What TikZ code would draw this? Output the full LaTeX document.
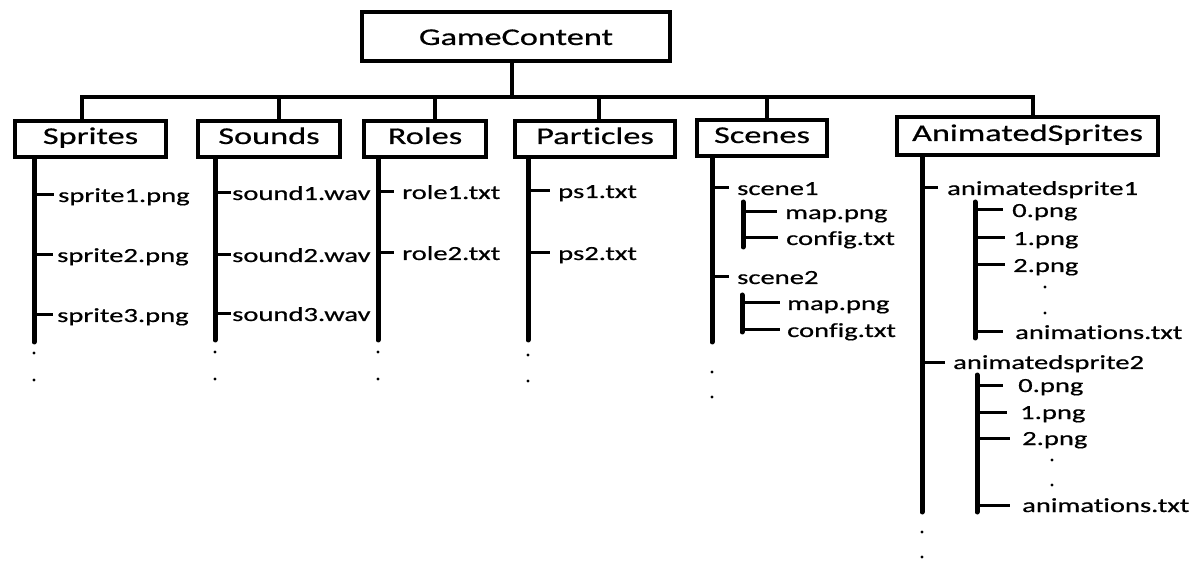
\documentclass[tikz,border=0pt]{standalone}
\usepackage{fontspec}
\newfontfamily\calfont{Carlito}[FakeStretch=1.43, FakeBold=0.6, RawFeature=-liga]
\begin{document}
\begin{tikzpicture}[x=1pt,y=-1pt,
  hdr/.style={draw, line width=4pt, inner sep=0pt, text height=16pt, text depth=6pt,
    font=\calfont\fontsize{24}{28}\selectfont},
  item/.style={anchor=west, inner sep=0pt, text height=15pt, text depth=1pt,
    font=\calfont\fontsize{20}{24}\selectfont},
  conn/.style={line width=4pt},
  trunk/.style={line width=5pt, line cap=round},
  stub/.style={line width=3pt},
  dot/.style={fill=black}]
\useasboundingbox (0,0) rectangle (1197,561);

% header boxes
\node[hdr, minimum width=308pt, minimum height=49pt, text height=17pt, text depth=0pt] (gc) at (516,36.5) {GameContent};
\node[hdr, minimum width=151pt, minimum height=36pt] (spr) at (90.5,139) {Sprites};
\node[hdr, minimum width=142pt, minimum height=36pt] (snd) at (269,139) {Sounds};
\node[hdr, minimum width=122pt, minimum height=36pt] (rol) at (425,139) {Roles};
\node[hdr, minimum width=160pt, minimum height=36pt] (par) at (595,139) {Particles};
\node[hdr, minimum width=130pt, minimum height=36pt] (scn) at (762,138) {Scenes};
\node[hdr, minimum width=261pt, minimum height=38pt] (ani) at (1027.5,136) {AnimatedSprites};

% top bar
\coordinate (xGC) at (512,97);
\coordinate (xSpr) at (82,97);
\coordinate (xSnd) at (279,97);
\coordinate (xRol) at (435,97);
\coordinate (xPar) at (599,97);
\coordinate (xScn) at (767,97);
\coordinate (xAni) at (1033,97);
\draw[conn] ([xshift=-2pt]xSpr) -- ([xshift=2pt]xAni);
\draw[conn] (gc.south -| xGC) -- (xGC);
\draw[conn] (spr.north -| xSpr) -- (xSpr);
\draw[conn] (snd.north -| xSnd) -- (xSnd);
\draw[conn] (rol.north -| xRol) -- (xRol);
\draw[conn] (par.north -| xPar) -- (xPar);
\draw[conn] (scn.north -| xScn) -- (xScn);
\draw[conn] (ani.north -| xAni) -- (xAni);

% Sprites
\coordinate (tSpr) at (34,342);
\draw[trunk] (spr.south -| tSpr) -- (tSpr);
\node[item] (sp1) at (58,195) {sprite1.png};
\node[item] (sp2) at (57,255) {sprite2.png};
\node[item] (sp3) at (57,315) {sprite3.png};
\foreach \n in {sp1,sp2,sp3} \draw[stub] (tSpr |- \n.west) -- ([xshift=-4pt]\n.west);
\fill[dot] (34,353) circle (1.6);
\fill[dot] (34,380) circle (1.6);

% Sounds
\coordinate (tSnd) at (215,340);
\draw[trunk] (snd.south -| tSnd) -- (tSnd);
\node[item] (so1) at (232,193) {sound1.wav};
\node[item] (so2) at (232,255) {sound2.wav};
\node[item] (so3) at (232,314) {sound3.wav};
\foreach \n in {so1,so2,so3} \draw[stub] (tSnd |- \n.west) -- ([xshift=-1pt]\n.west);
\fill[dot] (215,352) circle (1.6);
\fill[dot] (215,379) circle (1.6);

% Roles
\coordinate (tRol) at (378,340);
\draw[trunk] (rol.south -| tRol) -- (tRol);
\node[item] (ro1) at (402,192) {role1.txt};
\node[item] (ro2) at (402,253) {role2.txt};
\foreach \n in {ro1,ro2} \draw[stub] (tRol |- \n.west) -- ([xshift=-8pt]\n.west);
\fill[dot] (378,352) circle (1.6);
\fill[dot] (378,379) circle (1.6);

% Particles
\coordinate (tPar) at (528,340);
\draw[trunk] (par.south -| tPar) -- (tPar);
\node[item] (ps1) at (558,191) {ps1.txt};
\node[item] (ps2) at (558,253) {ps2.txt};
\foreach \n in {ps1,ps2} \draw[stub] (tPar |- \n.west) -- ([xshift=-8pt]\n.west);
\fill[dot] (528,355) circle (1.6);
\fill[dot] (528,381) circle (1.6);

% Scenes
\coordinate (tScn) at (712,342);
\draw[trunk] (scn.south -| tScn) -- (tScn);
\node[item] (sc1) at (737,188) {scene1};
\node[item] (sc2) at (737,277) {scene2};
\foreach \n in {sc1,sc2} \draw[stub] (tScn |- \n.west) -- ([xshift=-8pt]\n.west);
\coordinate (u1t) at (743,202);
\coordinate (u1b) at (743,247);
\draw[trunk] (u1t) -- (u1b);
\node[item] (m1) at (785,212) {map.png};
\node[item] (c1) at (786,238) {config.txt};
\foreach \n in {m1,c1} \draw[stub] (u1t |- \n.west) -- ([xshift=-8pt]\n.west);
\coordinate (u2t) at (742,295);
\coordinate (u2b) at (742,332);
\draw[trunk] (u2t) -- (u2b);
\node[item] (m2) at (787,303) {map.png};
\node[item] (c2) at (787,330) {config.txt};
\foreach \n in {m2,c2} \draw[stub] (u2t |- \n.west) -- ([xshift=-7pt]\n.west);
\fill[dot] (712,372) circle (1.6);
\fill[dot] (712,397) circle (1.6);

% AnimatedSprites
\coordinate (tAni) at (922,512);
\draw[trunk] (ani.south -| tAni) -- (tAni);
\node[item] (a1) at (947,188) {animatedsprite1};
\node[item] (a2) at (953,362) {animatedsprite2};
\draw[stub] (tAni |- a1.west) -- ([xshift=-9pt]a1.west);
\draw[stub] (tAni |- a2.west) -- ([xshift=-8pt]a2.west);

\coordinate (v1t) at (975,202);
\coordinate (v1b) at (975,338);
\draw[trunk] (v1t) -- (v1b);
\node[item] (a1p0) at (1012,210) {0.png};
\node[item] (a1p1) at (1013,238) {1.png};
\node[item] (a1p2) at (1013,265) {2.png};
\node[item] (a1an) at (1015,332) {animations.txt};
\draw[stub] (v1t |- a1p0.west) -- ([xshift=-9pt]a1p0.west);
\draw[stub] (v1t |- a1p1.west) -- ([xshift=-8pt]a1p1.west);
\draw[stub] (v1t |- a1p2.west) -- ([xshift=-8pt]a1p2.west);
\draw[stub] (v1t |- a1an.west) -- ([xshift=-12pt]a1an.west);
\fill[dot] (1045,287) circle (1.6);
\fill[dot] (1045,313) circle (1.6);

\coordinate (v2t) at (977,375);
\coordinate (v2b) at (977,512);
\draw[trunk] (v2t) -- (v2b);
\node[item] (a2p0) at (1018,385) {0.png};
\node[item] (a2p1) at (1020,412) {1.png};
\node[item] (a2p2) at (1022,438) {2.png};
\node[item] (a2an) at (1022,505) {animations.txt};
\draw[stub] (v2t |- a2p0.west) -- ([xshift=-15pt]a2p0.west);
\draw[stub] (v2t |- a2p1.west) -- ([xshift=-13pt]a2p1.west);
\draw[stub] (v2t |- a2p2.west) -- ([xshift=-12pt]a2p2.west);
\draw[stub] (v2t |- a2an.west) -- ([xshift=-12pt]a2an.west);
\fill[dot] (1052,460) circle (1.6);
\fill[dot] (1052,485) circle (1.6);

\fill[dot] (922,532) circle (1.6);
\fill[dot] (922,557) circle (1.6);
\end{tikzpicture}
\end{document}
